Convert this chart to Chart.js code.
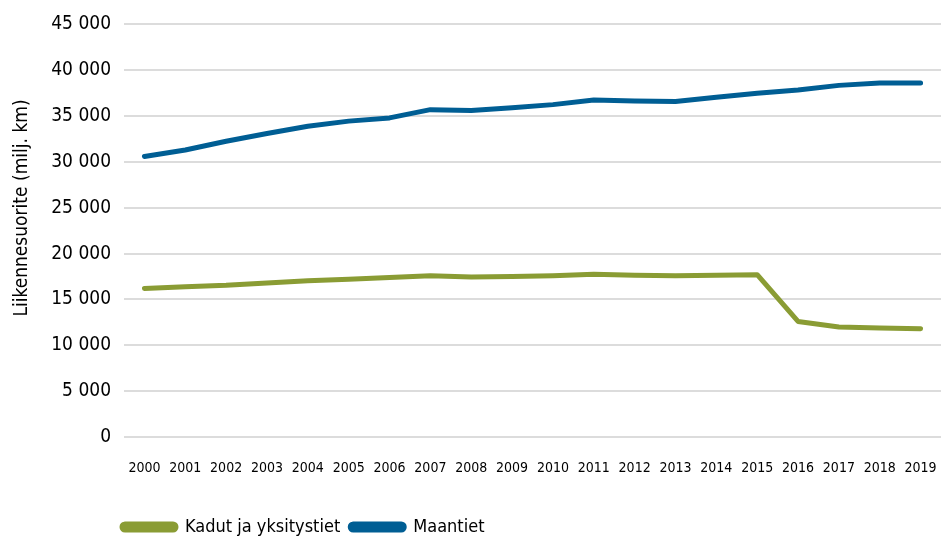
<!DOCTYPE html>
<html>
<head>
<meta charset="utf-8">
<script src="https://cdn.jsdelivr.net/npm/chart.js@4"></script>
<style>
html,body{margin:0;padding:0;background:#fff;}
#wrap{width:941px;height:538px;position:relative;}
</style>
</head>
<body>
<div id="wrap"><canvas id="c" width="941" height="538"></canvas></div>
<script>
const years = ["2000","2001","2002","2003","2004","2005","2006","2007","2008","2009","2010","2011","2012","2013","2014","2015","2016","2017","2018","2019"];
const kadut = [16200,16400,16550,16800,17050,17200,17400,17600,17450,17500,17600,17750,17650,17600,17650,17700,12600,12000,11900,11800];
const maantiet = [30600,31300,32250,33100,33900,34450,34800,35700,35600,35900,36250,36750,36650,36600,37050,37500,37850,38350,38600,38600];
const yTicks = [0,5000,10000,15000,20000,25000,30000,35000,40000,45000];
const yTitle = 'Liikennesuorite (milj. km)';

const FONT = "'DejaVu Sans',sans-serif";
const fmt = v => String(v).replace(/\B(?=(\d{3})+(?!\d))/g, ' ');

// keep all canvas text in the condensed face of DejaVu Sans
(function () {
  const proto = CanvasRenderingContext2D.prototype;
  const desc = Object.getOwnPropertyDescriptor(proto, 'font');
  if (desc && 'fontStretch' in proto) {
    Object.defineProperty(proto, 'font', {
      configurable: true,
      get() { return desc.get.call(this); },
      set(v) { desc.set.call(this, v); this.fontStretch = 'condensed'; }
    });
  }
})();

const legendShift = {
  id: 'legendShift',
  afterLayout(chart) {
    const lg = chart.legend;
    if (!lg) return;
    lg.left = 112;
    lg.top += 8;
    lg.bottom += 8;
  }
};

const axisTitle = {
  id: 'axisTitle',
  afterDraw(chart) {
    const ctx = chart.ctx;
    ctx.save();
    ctx.font = "19px 'DejaVu Sans', sans-serif";
    ctx.fillStyle = '#000';
    ctx.translate(22, 208);
    ctx.rotate(-Math.PI / 2);
    ctx.textAlign = 'center';
    ctx.textBaseline = 'middle';
    ctx.fillText(yTitle, 0, 0);
    ctx.restore();
  }
};

new Chart(document.getElementById('c'), {
  type: 'line',
  data: {
    labels: years,
    datasets: [
      { label: 'Kadut ja yksitystiet', data: kadut, borderColor: '#8a9c34', backgroundColor: '#8a9c34' },
      { label: 'Maantiet', data: maantiet, borderColor: '#005e94', backgroundColor: '#005e94' }
    ]
  },
  options: {
    responsive: false,
    animation: false,
    devicePixelRatio: 1,
    layout: { padding: { top: 2, right: 0, left: 0, bottom: 0 } },
    elements: {
      line: { borderWidth: 5, tension: 0, borderCapStyle: 'round', borderJoinStyle: 'round' },
      point: { radius: 0 }
    },
    plugins: {
      legend: {
        position: 'bottom',
        align: 'start',
        labels: {
          boxWidth: 54, boxHeight: 6, padding: 10,
          useBorderRadius: true, borderRadius: 3,
          color: '#000',
          font: { family: FONT, size: 18 }
        }
      },
      tooltip: { enabled: false }
    },
    scales: {
      x: {
        offset: true,
        grid: { display: false, drawTicks: true, tickLength: 20 },
        border: { display: false },
        ticks: { color: '#000', font: { family: FONT, size: 14 }, padding: 3, maxRotation: 0, autoSkip: false },
        afterFit(s) { s.height = 63; }
      },
      y: {
        min: 0, max: 45000,
        afterBuildTicks(s) { s.ticks = yTicks.map(v => ({ value: v })); },
        grid: { color: '#dcdcdc', lineWidth: 2, drawTicks: false },
        border: { display: false },
        ticks: { color: '#000', font: { family: FONT, size: 19 }, padding: 13, callback: v => fmt(v) },
        title: { display: false },
        afterFit(s) { s.width = 124; }
      }
    }
  },
  plugins: [legendShift, axisTitle]
});
</script>
</body>
</html>
